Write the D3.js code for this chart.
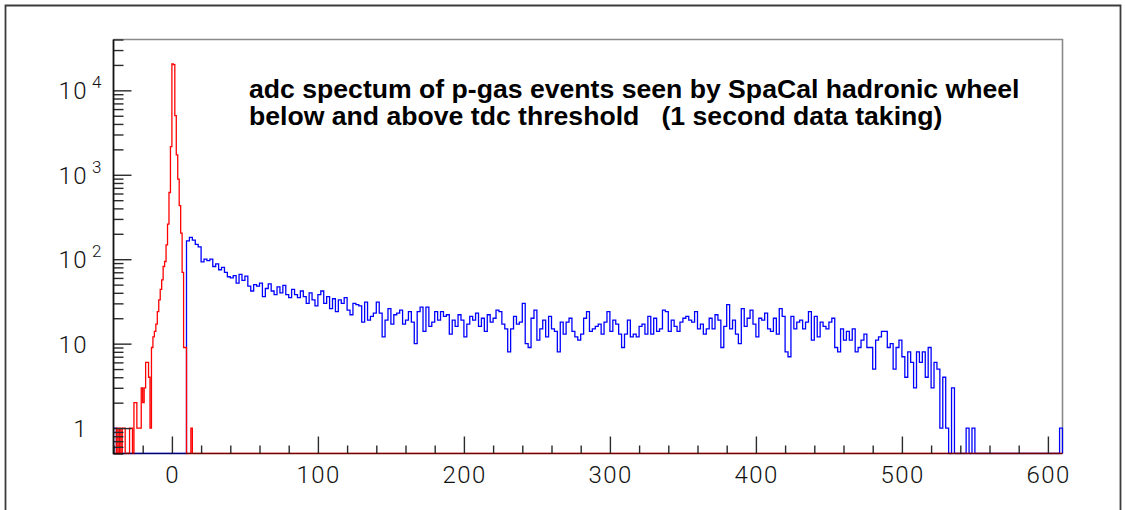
<!DOCTYPE html>
<html>
<head>
<meta charset="utf-8">
<script src="https://cdn.jsdelivr.net/npm/d3@7"></script>
<style>
  html, body { margin: 0; padding: 0; background: #fff; }
  svg { display: block; }
</style>
</head>
<body>
<svg id="chart" width="1125" height="510"></svg>
<script>
// ---- axis set-up -------------------------------------------------------
const xDomain = [-40, 610];
const yDomain = [0.5, 40000];
const xMajorTicks = [0, 100, 200, 300, 400, 500, 600];
const xTickLabels = ["0", "100", "200", "300", "400", "500", "600"];
const yMajorTicks = [1, 10, 100, 1000, 10000];
const yTickBase = ["1", "10", "10", "10", "10"];
const yTickExp = ["", "", "2", "3", "4"];
const titleLines = [
  "adc spectum of p-gas events seen by SpaCal hadronic wheel",
  "below and above tdc threshold   (1 second data taking)"
];

// ---- below tdc threshold: 1-channel bins from -40 (empty beyond the list) ----
const redLow = -40;
const redBinWidth = 1;
const redCounts = [
  0, 0, 1, 0, 1, 0, 1, 1, 0, 0,
  0, 1, 1, 0, 2, 2, 1, 1, 1, 3,
  2, 3, 6, 6, 4, 1, 9, 12, 14, 17,
  24, 33, 44, 57, 82, 94, 148, 261, 617, 2160,
  20600, 20200, 5030, 1725, 890, 430, 204, 70, 9, 9,
  0, 0, 0, 1
];

// ---- above tdc threshold: 2-channel bins from -40 to 610 ----
const blueLow = -40;
const blueBinWidth = 2;
const blueCounts = [
  // -40 .. 8
  1, 0, 0, 0, 0, 0, 0, 0, 0, 0, 0, 0, 0, 0, 0, 0, 0, 0, 0, 0, 0, 0, 0, 0, 0,
  // 10 .. 110
  165, 181, 168, 150, 140, 93, 100, 96, 100, 82,
  88, 75, 80, 70, 62, 60, 64, 52, 66, 56,
  63, 48, 42, 50, 48, 52, 36, 45, 51, 42,
  38, 47, 40, 49, 38, 35, 44, 38, 35, 42,
  36, 30, 40, 33, 28, 38, 42, 30, 36, 26,
  34,
  // 112 .. 220
  24, 33, 30, 35, 25, 22, 30, 29, 28, 18,
  31, 19, 21, 23, 31, 23, 12, 19, 26, 17,
  22, 23, 25, 17, 19, 24, 18, 10, 24, 27,
  14, 27, 16, 18, 24, 19, 24, 21, 22, 13,
  19, 16, 22, 19, 12, 17, 21, 19, 23, 16,
  20, 14, 22, 18, 20,
  // 222 .. 326
  25, 24, 17, 15, 8, 15, 21, 17, 18, 30,
  10, 9, 20, 25, 11, 15, 19, 12, 21, 15,
  14, 8, 18, 13, 18, 20, 14, 12, 11, 13,
  20, 24, 14, 15, 16, 17, 13, 18, 24, 14,
  19, 17, 13, 9, 13, 19, 12, 13, 12, 16,
  17, 13, 21,
  // 328 .. 432
  13, 20, 14, 15, 25, 24, 14, 19, 16, 14,
  18, 20, 21, 19, 18, 24, 15, 17, 13, 15,
  20, 15, 22, 19, 9, 16, 29, 15, 19, 13,
  10, 26, 16, 20, 25, 17, 12, 20, 19, 23,
  15, 14, 20, 13, 26, 21, 8, 7, 21, 15,
  18, 19, 15,
  // 434 .. 548
  18, 24, 11, 21, 12, 18, 16, 15, 18, 20,
  9, 8, 15, 11, 14, 11, 15, 8, 9, 11,
  13, 9, 9, 5, 11, 12, 14, 14, 9, 10,
  5, 9, 11, 7, 4, 8, 6, 3, 8, 6,
  8, 4, 9, 3, 6, 5, 1, 4, 1, 0,
  3, 0, 0, 0, 0, 1, 0, 1,
  // 550 .. 608
  0, 0, 0, 0, 0, 0, 0, 0, 0, 0,
  0, 0, 0, 0, 0, 0, 0, 0, 0, 0,
  0, 0, 0, 0, 0, 0, 0, 0, 0, 1
];

// ---- drawing ---------------------------------------------------------------
const svg = d3.select("#chart");
const plot = { left: 113.5, right: 1062.5, top: 39.5, bottom: 453.5 };

const x = d3.scaleLinear().domain(xDomain).range([plot.left, plot.right]);
const y = d3.scaleLog().domain(yDomain).range([plot.bottom, plot.top]);

// canvas border
svg.append("path")
  .attr("d", "M5.5,515 V5.5 H1120.5 V515")
  .attr("fill", "none")
  .attr("stroke", "#3c3c3c")
  .attr("stroke-width", 1.8);

// frame: top and right edges
svg.append("path")
  .attr("d", `M${plot.left},${plot.top} H${plot.right} V${plot.bottom}`)
  .attr("fill", "none")
  .attr("stroke", "#8a8a8a")
  .attr("stroke-width", 1.6);

svg.append("defs").append("clipPath").attr("id", "plotClip")
  .append("rect")
  .attr("x", plot.left).attr("y", plot.top - 1)
  .attr("width", plot.right - plot.left + 1)
  .attr("height", plot.bottom - plot.top + 2);

// step outline of a histogram; empty bins sit on the lower frame edge
function histPath(low, width, counts) {
  const yOf = c => (c > 0 ? y(c) : plot.bottom);
  const pts = [[x(low), plot.bottom]];
  counts.forEach((c, i) => pts.push([x(low + i * width), yOf(c)]));
  pts.push([x(low + counts.length * width), plot.bottom]);
  pts.push([x(xDomain[1]), plot.bottom]);
  return d3.line().curve(d3.curveStepAfter)(pts);
}

const hists = svg.append("g").attr("clip-path", "url(#plotClip)");
hists.append("path")
  .attr("d", histPath(blueLow, blueBinWidth, blueCounts))
  .attr("fill", "none")
  .attr("stroke", "#0000ff")
  .attr("stroke-width", 1.3)
  .attr("stroke-linejoin", "miter");
hists.append("path")
  .attr("d", histPath(redLow, redBinWidth, redCounts))
  .attr("fill", "none")
  .attr("stroke", "#ff0000")
  .attr("stroke-width", 1.3)
  .attr("stroke-linejoin", "miter");

// ---- axes -----------------------------------------------------------------
const tickColor = "#2a2a2a";

// x axis: majors every 100, minors every 20, ticks pointing inwards
const xMinor = d3.range(-40, 611, 20).filter(v => v % 100 !== 0);
const xAxisMajor = d3.axisBottom(x).tickValues(xMajorTicks).tickSizeInner(-17).tickSizeOuter(0).tickFormat("");
const xAxisMinor = d3.axisBottom(x).tickValues(xMinor).tickSizeInner(-8).tickSizeOuter(0).tickFormat("");
[xAxisMinor, xAxisMajor].forEach(ax => {
  const g = svg.append("g").attr("transform", `translate(0,${plot.bottom})`).call(ax);
  g.select(".domain").remove();
  g.selectAll(".tick line").attr("stroke", tickColor).attr("stroke-width", 1.4);
});

// y axis: majors per decade, minors 2..9
const yMinor = [];
[0.1, 1, 10, 100, 1000, 10000].forEach(d => {
  for (let k = 2; k <= 9; k++) {
    const v = d * k;
    if (v >= yDomain[0] && v <= yDomain[1]) yMinor.push(v);
  }
});
const yAxisMajor = d3.axisLeft(y).tickValues(yMajorTicks).tickSizeInner(-18).tickSizeOuter(0).tickFormat("");
const yAxisMinor = d3.axisLeft(y).tickValues(yMinor).tickSizeInner(-10).tickSizeOuter(0).tickFormat("");
[yAxisMinor, yAxisMajor].forEach(ax => {
  const g = svg.append("g").attr("transform", `translate(${plot.left},0)`).call(ax);
  g.select(".domain").remove();
  g.selectAll(".tick line").attr("stroke", tickColor).attr("stroke-width", 1.4);
});

// axis lines
svg.append("line")
  .attr("x1", plot.left).attr("x2", plot.left)
  .attr("y1", plot.top).attr("y2", plot.bottom + 0.8)
  .attr("stroke", "#111").attr("stroke-width", 1.8);
svg.append("line")
  .attr("x1", plot.left).attr("x2", plot.right)
  .attr("y1", plot.bottom).attr("y2", plot.bottom)
  .attr("stroke", "#000").attr("stroke-width", 1.6).attr("stroke-opacity", 0.55);

// ---- tick labels ------------------------------------------------------------
const labelFont = "Roboto, 'Liberation Sans', sans-serif";

svg.append("g").selectAll("text")
  .data(xMajorTicks)
  .join("text")
  .attr("x", d => x(d) + 0.8)
  .attr("y", 483)
  .attr("text-anchor", "middle")
  .attr("font-family", labelFont)
  .attr("font-weight", 300)
  .attr("font-size", 24)
  .attr("letter-spacing", 1.5)
  .attr("fill", "#111")
  .text((d, i) => xTickLabels[i]);

const yLab = svg.append("g");
yMajorTicks.forEach((v, i) => {
  const ty = y(v);
  yLab.append("text")
    .attr("x", 88)
    .attr("y", ty + 9)
    .attr("text-anchor", "end")
    .attr("font-family", labelFont)
    .attr("font-weight", 300)
    .attr("font-size", 24)
    .attr("letter-spacing", 1.5)
    .attr("fill", "#111")
    .text(yTickBase[i]);
  if (yTickExp[i]) {
    yLab.append("text")
      .attr("x", 92)
      .attr("y", ty - 2)
      .attr("font-family", labelFont)
      .attr("font-weight", 300)
      .attr("font-size", 17)
      .attr("fill", "#111")
      .text(yTickExp[i]);
  }
});

// ---- title -------------------------------------------------------------------
const titleG = svg.append("g");
const t1 = titleG.append("text")
  .attr("x", 249).attr("y", 98)
  .attr("font-family", "'Liberation Sans', Arial, sans-serif")
  .attr("font-weight", "bold")
  .attr("font-size", 22)
  .attr("fill", "#000")
  .text(titleLines[0]);
const fit = 22 * 771 / t1.node().getComputedTextLength();
t1.attr("font-size", fit);
titleG.append("text")
  .attr("x", 249).attr("y", 125)
  .attr("font-family", "'Liberation Sans', Arial, sans-serif")
  .attr("font-weight", "bold")
  .attr("font-size", fit)
  .attr("fill", "#000")
  .style("white-space", "pre")
  .text(titleLines[1]);
</script>
</body>
</html>
